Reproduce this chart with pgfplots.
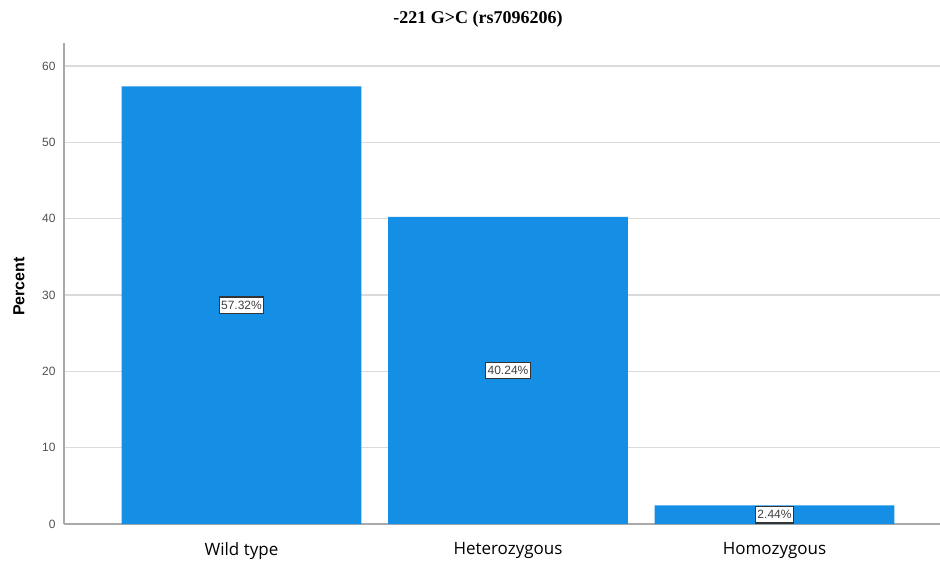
\documentclass[border=0pt]{standalone}
\usepackage{fontspec}
\setmainfont{Liberation Sans}
\newfontfamily\titlefont{Liberation Serif}
\newfontfamily\catfont{Open Sans}
\usepackage{pgfplots}
\pgfplotsset{compat=1.18}
\usepackage{pgfplotstable}
\definecolor{barblue}{RGB}{21,143,229}
\definecolor{gridgray}{RGB}{218,218,218}
\definecolor{spinegray}{RGB}{170,170,170}
\definecolor{ticktext}{RGB}{80,80,80}

\pgfplotstableread{
x v lab
0 57.32 57.32\%
1 40.24 40.24\%
2 2.44 2.44\%
}\genotypes

\begin{document}
\begin{tikzpicture}
\useasboundingbox (0,0) rectangle (940pt,568pt);
\begin{axis}[
    at={(64pt,44pt)}, anchor=south west,
    scale only axis,
    width=876pt, height=481pt,
    xmin=-0.666, xmax=2.621,
    ymin=0, ymax=63,
    axis x line*=bottom, axis y line*=left,
    axis line style={spinegray, line width=1.2pt, -},
    xtick={0,1,2},
    xticklabels={Wild type, Heterozygous, Homozygous},
    xticklabel style={font=\catfont\fontsize{17}{20}\selectfont, text=black, yshift=-15pt},
    ytick={0,10,...,60},
    yticklabel style={font=\fontsize{12}{14}\selectfont, text=ticktext, xshift=-5pt},
    /pgf/number format/assume math mode=true,
    major tick length=0pt,
    ymajorgrids=true,
    grid style={gridgray, line width=1.2pt},
    title={-221 G>C (rs7096206)},
    title style={font=\titlefont\bfseries\fontsize{18}{20}\selectfont, at={(axis description cs:0.5,1)}, anchor=center, xshift=-24pt, yshift=18pt},
    ylabel={Percent},
    every axis y label/.style={at={(axis description cs:0,0.5)}, rotate=90, anchor=center, yshift=45pt, xshift=-3pt,
      font=\bfseries\fontsize{16}{18}\selectfont},
    clip=false,
]
\addplot[ybar, bar width=0.899, fill=barblue, draw=none] table[x=x, y=v] {\genotypes};
\addplot[draw=none, mark=none, nodes near coords, point meta=explicit symbolic,
    every node near coord/.style={anchor=center, fill=white, draw=black!80, line width=1.2pt,
      inner xsep=2pt, inner ysep=4pt, font=\fontsize{12}{13}\selectfont, text=black!75}]
    table[x=x, y expr=\thisrow{v}/2, meta=lab] {\genotypes};
\end{axis}
\end{tikzpicture}
\end{document}
